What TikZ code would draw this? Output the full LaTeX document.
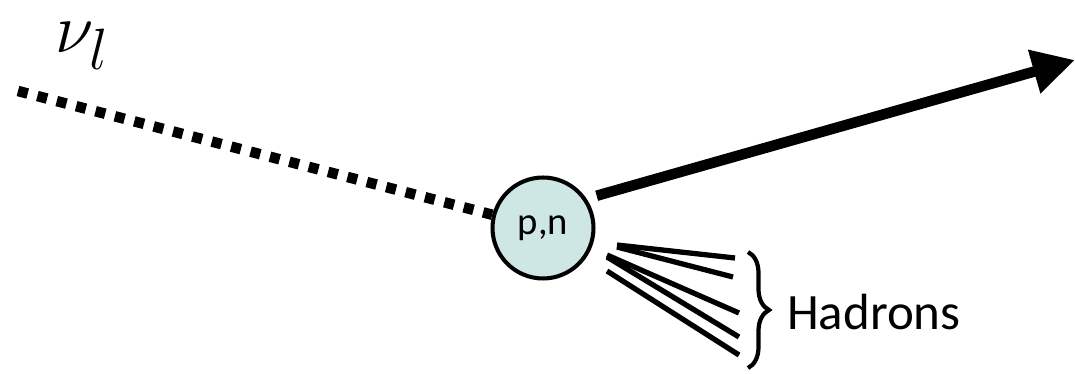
\documentclass[tikz,border=0pt]{standalone}
\usepackage{fontspec}
\setmainfont{Carlito}
\usetikzlibrary{arrows.meta,decorations.pathreplacing}
\definecolor{nucfill}{RGB}{206,231,228}
\tikzset{
	nucleon/.style  = { circle, draw, line width=2.3pt, fill=nucfill,
		minimum size=2.02cm, inner sep=0pt, font=\fontsize{22}{24}\selectfont },
	neutrino/.style = { draw, line width=6pt, dash pattern=on 5.7pt off 5.7pt },
	lepton/.style   = { draw, line width=6pt, -{Triangle[length=0.85cm,width=0.85cm]}, shorten <=6pt },
	hadron/.style   = { draw, line width=3pt },
	bracket/.style  = { draw, line width=2.4pt,
		decorate, decoration={brace, amplitude=0.42cm} },
}

\begin{document}
\begin{tikzpicture}[x=0.02cm, y=-0.02cm]
	\useasboundingbox (0,0) rectangle (1075,374);
	\node (nuc) [nucleon] at (543,228) {p,n};
	\node (nu) [scale=1.6, inner sep=0pt] at (82,46) {\Huge $\nu_l$};
	\coordinate (in) at (18,91);
	\coordinate (out) at (1075,60);
	\draw[neutrino] (in) -- (nuc);
	\draw[lepton] (nuc.34) -- (out);
	% hadronic shower
	\foreach \i/\sx/\sy/\ex/\ey in {1/617/245/735/258, 2/617/247/733/277,
		3/607/255/739/313, 4/607/257/739/337, 5/607/271/739/355} {
		\coordinate (hs\i) at (\sx,\sy);
		\coordinate (he\i) at (\ex,\ey);
		\draw[hadron] (hs\i) -- (he\i);
	}
	\coordinate (btop) at (748,252);
	\coordinate (bbot) at (748,368);
	\draw[bracket] (btop) -- (bbot);
	\node (had) [anchor=west, font=\fontsize{29}{32}\selectfont] at (781,312) {Hadrons};
\end{tikzpicture}
\end{document}
